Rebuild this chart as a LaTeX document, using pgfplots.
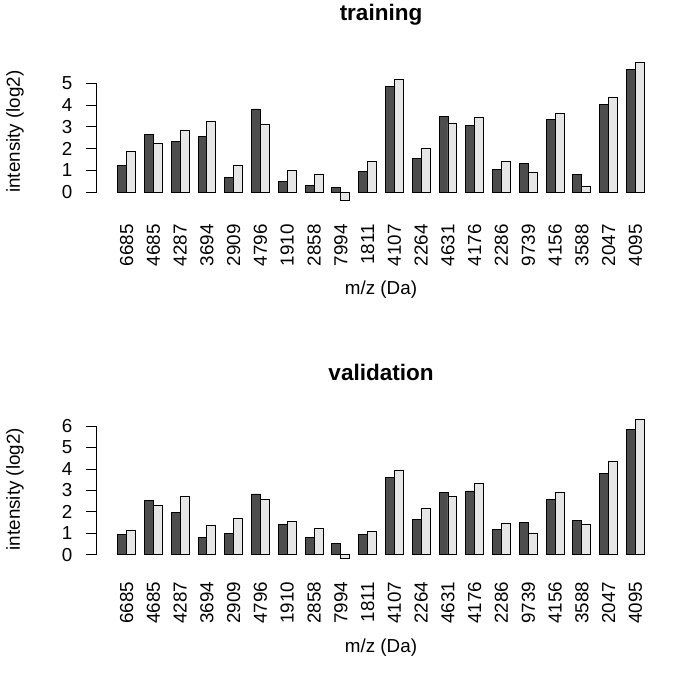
\documentclass[border=0pt]{standalone}
\usepackage{pgfplots}
\pgfplotsset{compat=1.18}
\usepackage{pgfplotstable}
\usepackage{fontspec}
\setmainfont{Liberation Sans}
\definecolor{darkbar}{HTML}{4D4D4D}
\definecolor{lightbar}{HTML}{E6E6E6}

\pgfplotstableread{
x  d     l
2  1.21  1.85
5  2.66  2.26
8  2.34  2.84
11 2.54  3.24
14 0.69  1.24
17 3.82  3.10
20 0.49  1.02
23 0.32  0.84
26 0.24  -0.38
29 0.95  1.41
32 4.85  5.18
35 1.56  2.02
38 3.47  3.17
41 3.06  3.43
44 1.04  1.41
47 1.30  0.92
50 3.32  3.61
53 0.83  0.26
56 4.04  4.37
59 5.64  5.96
}\training

\pgfplotstableread{
x  d     l
2  0.92  1.11
5  2.53  2.31
8  1.97  2.72
11 0.80  1.36
14 0.97  1.69
17 2.83  2.59
20 1.41  1.55
23 0.80  1.20
26 0.52  -0.17
29 0.92  1.08
32 3.59  3.94
35 1.64  2.14
38 2.92  2.73
41 2.97  3.30
44 1.19  1.44
47 1.50  0.97
50 2.59  2.91
53 1.61  1.42
56 3.81  4.36
59 5.84  6.29
}\validation

\pgfplotsset{
  rstyle/.style={
    scale only axis,
    width=568.8pt,
    anchor=south west,
    xmin=-1.36, xmax=62.36,
    ybar, bar width=1,
    clip=false,
    axis line style={draw=none},
    xtick={2,5,...,59},
    xticklabels={6685,4685,4287,3694,2909,4796,1910,2858,7994,1811,4107,2264,4631,4176,2286,9739,4156,3588,2047,4095},
    xtick style={draw=none},
    xtick pos=bottom,
    ytick pos=left,
    tick align=outside,
    major tick length=11pt,
    ytick style={line width=0.8pt, black},
    /pgf/number format/assume math mode=true,
    tick label style={font=\fontsize{18.8}{20}\selectfont},
    xticklabel style={anchor=east, yshift=-7pt, rotate=90, inner sep=0pt},
    yticklabel style={anchor=east, inner sep=0pt, xshift=-13pt},
    label style={font=\fontsize{18.8}{20}\selectfont},
    xlabel={m/z (Da)},
    ylabel={intensity (log2)},
    xlabel style={at={(axis description cs:0.5,-0.563)}, anchor=center},
    ylabel style={at={(axis description cs:-0.1436,0.5)}, anchor=center, rotate=0},
  }
}

\begin{document}
\begin{tikzpicture}[x=1pt,y=1pt]
\path[use as bounding box] (0,0) rectangle (685,681);
\begin{axis}[rstyle,
  at={(96.6pt,474.9pt)},
  height=149.2pt,
  ymin=-0.634, ymax=6.21,
  ytick={0,1,2,3,4,5},
  every axis title/.style={at={(axis description cs:0.5,1.243)}, anchor=base, font=\fontsize{22.5}{24}\selectfont\bfseries},
  title={training}]
\addplot[fill=darkbar, draw=black, line width=0.9pt, bar shift=-0.5] table[x=x,y=d] {\training};
\addplot[fill=lightbar, draw=black, line width=0.9pt, bar shift=0.5] table[x=x,y=l] {\training};
\draw[line width=0.8pt] (axis cs:-1.36,0) -- (axis cs:-1.36,5);
\end{axis}
\begin{axis}[rstyle,
  at={(96.6pt,117.3pt)},
  height=149.3pt,
  ymin=-0.428, ymax=6.548,
  ytick={0,1,2,3,4,5,6},
  every axis title/.style={at={(axis description cs:0.5,1.23)}, anchor=base, font=\fontsize{22.5}{24}\selectfont\bfseries},
  title={validation}]
\addplot[fill=darkbar, draw=black, line width=0.9pt, bar shift=-0.5] table[x=x,y=d] {\validation};
\addplot[fill=lightbar, draw=black, line width=0.9pt, bar shift=0.5] table[x=x,y=l] {\validation};
\draw[line width=0.8pt] (axis cs:-1.36,0) -- (axis cs:-1.36,6);
\end{axis}
\end{tikzpicture}
\end{document}
